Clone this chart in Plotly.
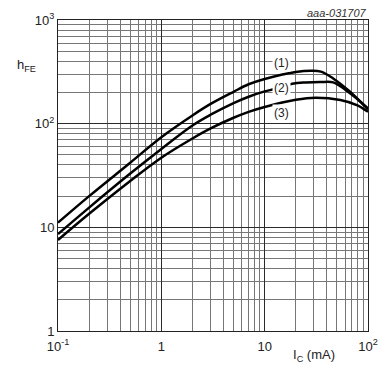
import math
import plotly.graph_objects as go

# Collector current (mA) and DC current gain hFE for three curves
ic_1 = [0.1, 0.2, 0.5, 1, 2, 3, 5, 7, 10, 20, 28, 35, 46, 67, 100]
hfe_1 = [11.1, 20, 42, 74, 120, 155, 203, 240, 270, 315, 324, 318, 273, 203, 137]

ic_2 = [0.1, 0.2, 0.5, 1, 2, 3, 5, 7, 10, 12.5, 18.5, 25, 35, 46, 67, 100]
hfe_2 = [8.6, 15.5, 33, 57, 96, 122, 158, 182, 205, 216, 243, 250, 252, 250, 196, 140]

ic_3 = [0.1, 0.2, 0.5, 1, 2, 3, 5, 7, 10, 20, 31, 54, 78, 100]
hfe_3 = [7.55, 13.5, 28, 47, 72, 90, 114, 130, 145, 170, 178, 169, 151, 130]

x_ticks = [0.1, 1, 10, 100]
x_ticktext = ["10<sup>-1</sup>", "1", "10", "10<sup>2</sup>"]
y_ticks = [1, 10, 100, 1000]
y_ticktext = ["1", "10", "10<sup>2</sup>", "10<sup>3</sup>"]

curve_labels = ["(1)", "(2)", "(3)"]
label_x = 14.7
label_y = [381, 222, 127]

minor_x = [m * d for d in [0.1, 1, 10] for m in range(2, 10)]
minor_y = [m * d for d in [1, 10, 100] for m in range(2, 10)]

FONT = "Liberation Sans, Arial, sans-serif"

fig = go.Figure()
line = dict(color="black", width=2.5, shape="spline", smoothing=1.0)
for xs, ys in [(ic_1, hfe_1), (ic_2, hfe_2), (ic_3, hfe_3)]:
    fig.add_trace(go.Scatter(x=xs, y=ys, mode="lines", line=line, showlegend=False))

for t, yv in zip(curve_labels, label_y):
    fig.add_annotation(x=math.log10(label_x), y=math.log10(yv), text=t, showarrow=False,
                       bgcolor="white", borderpad=1,
                       font=dict(family=FONT, size=12, color="#222"))

fig.add_annotation(xref="paper", yref="paper", x=1.0, y=1.0, yshift=0, xanchor="right", yanchor="bottom",
                   text="<i>aaa-031707</i>", showarrow=False, borderpad=0,
                   font=dict(family=FONT, size=11, color="#333"))
fig.add_annotation(xref="paper", yref="paper", x=-0.065, y=0.855, xanchor="right", yanchor="middle",
                   text="h<sub>FE</sub>", showarrow=False,
                   font=dict(family=FONT, size=13, color="#222"))
fig.add_annotation(xref="paper", yref="paper", x=0.825, y=-0.045, xanchor="center", yanchor="top",
                   text="I<sub>C</sub> (mA)", showarrow=False,
                   font=dict(family=FONT, size=13, color="#222"))

fig.update_xaxes(type="log", range=[-1, 2], tickvals=x_ticks, ticktext=x_ticktext,
                 showgrid=True, gridcolor="#2a2a2a", gridwidth=1,
                 showline=True, linecolor="#222", linewidth=1, mirror=True,
                 ticks="", zeroline=False, ticklabelstandoff=3, automargin=False,
                 tickfont=dict(family=FONT, size=13, color="#222"),
                 minor=dict(tickvals=minor_x, showgrid=True, gridcolor="#777", gridwidth=1, ticks=""))
fig.update_yaxes(type="log", range=[0, 3], tickvals=y_ticks, ticktext=y_ticktext,
                 showgrid=True, gridcolor="#2a2a2a", gridwidth=1,
                 showline=True, linecolor="#222", linewidth=1, mirror=True,
                 ticks="", zeroline=False, automargin=False,
                 tickfont=dict(family=FONT, size=13, color="#222"),
                 minor=dict(tickvals=minor_y, showgrid=True, gridcolor="#777", gridwidth=1, ticks=""))

fig.update_layout(width=384, height=372, margin=dict(l=50, r=24, t=12, b=49),
                  plot_bgcolor="white", paper_bgcolor="white")
fig.write_html("out.html")
